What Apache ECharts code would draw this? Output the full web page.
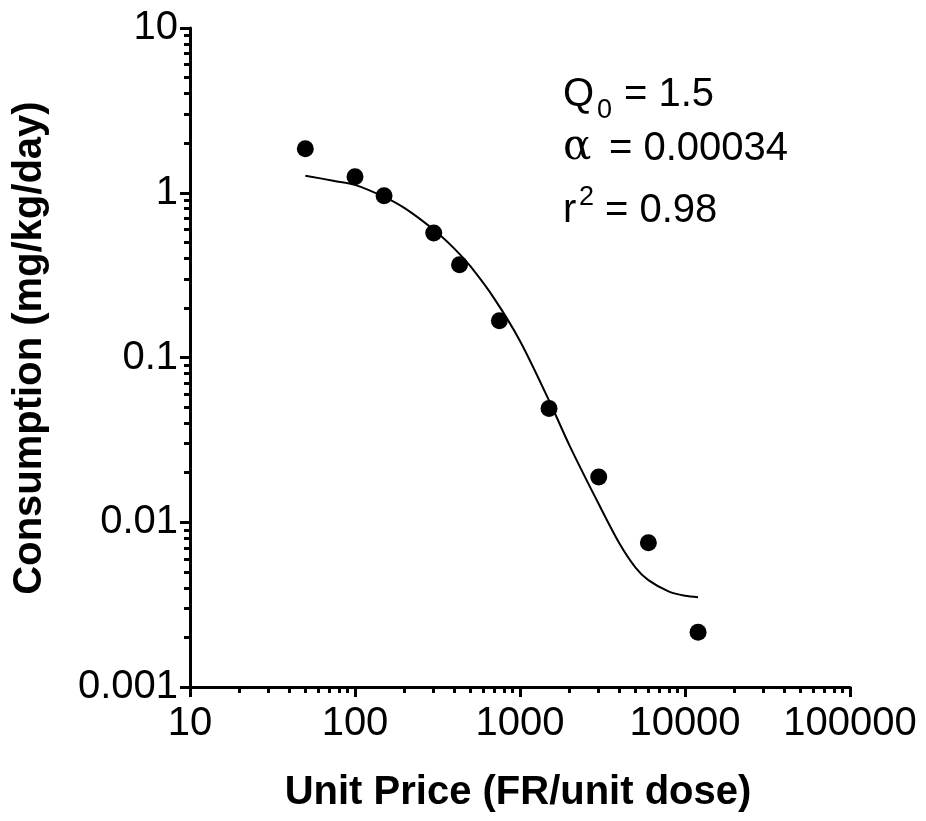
<!DOCTYPE html>
<html lang="en" style="height:100%">
<head>
    <meta charset="UTF-8">
    <title>Demand curve</title>
</head>
<body style="height: 100%; margin: 0; background: #fff">
<div id="container" style="width: 926px; height: 821px"></div>
<script type="text/javascript" src="https://cdn.jsdelivr.net/npm/echarts@6/dist/echarts.min.js"></script>
<script type="text/javascript">

    // observed points
    var price = [50, 100, 150, 300, 430, 750, 1500, 3000, 6000, 12000];
    var consumption = [1.85, 1.25, 0.96, 0.57, 0.365, 0.167, 0.049, 0.0188, 0.0075, 0.00215];

    // fitted curve
    var fitPrice = [50, 75, 100, 150, 200, 300, 400, 500, 700, 1000, 1500, 2000, 3000, 4000, 5000, 6000, 8000, 10000, 12000];
    var fitConsumption = [1.27, 1.18, 1.117, 0.944, 0.806, 0.596, 0.458, 0.358, 0.227, 0.126, 0.0548, 0.0291, 0.0129, 0.00746, 0.00533, 0.00445, 0.00379, 0.00358, 0.00351];

    // ticks
    var xMajor = [10, 100, 1000, 10000, 100000];
    var yMajor = [0.001, 0.01, 0.1, 1, 10];

    var minorOf = function (major) {
        var res = [];
        for (var i = 0; i < major.length - 1; i++) {
            for (var k = 2; k <= 9; k++) {
                res.push(+(major[i] * k).toPrecision(6));
            }
        }
        return res;
    };

    var font = 'Liberation Sans, Arial, sans-serif';

    var dom = document.getElementById("container");
    var myChart = echarts.init(dom);

    var pairs = function (xs, ys) {
        var res = [];
        for (var i = 0; i < xs.length; i++) {
            res.push([xs[i], ys[i]]);
        }
        return res;
    };

    var majorAxis = function (vals, pos, margin) {
        return {
            type: 'log',
            logBase: 10,
            position: pos,
            min: vals[0],
            max: vals[vals.length - 1],
            axisLine: {show: true, onZero: false, lineStyle: {color: '#000', width: 3}},
            axisTick: {show: true, length: 10, customValues: vals, lineStyle: {color: '#000', width: 3}},
            axisLabel: {
                customValues: vals,
                color: '#000',
                fontSize: 40,
                fontFamily: font,
                margin: margin,
                formatter: function (v) { return String(v); }
            },
            splitLine: {show: false}
        };
    };

    // second axis on the same side, only for the 2..9 minor ticks
    var minorAxis = function (vals, pos) {
        return {
            type: 'log',
            logBase: 10,
            position: pos,
            min: vals[0],
            max: vals[vals.length - 1],
            axisLine: {show: false, onZero: false},
            axisTick: {show: true, length: 6, customValues: minorOf(vals), lineStyle: {color: '#000', width: 3}},
            axisLabel: {show: false},
            splitLine: {show: false}
        };
    };

    var txt = function (text, left, top, size, family) {
        return {
            type: 'text', left: left, top: top,
            style: {text: text, fontSize: size, fontFamily: family || font, fill: '#000'}
        };
    };

    var option = {
        backgroundColor: '#fff',
        animation: false,
        grid: {left: 190, right: 76, top: 28, bottom: 134, containLabel: false},
        xAxis: [majorAxis(xMajor, 'bottom', 17), minorAxis(xMajor, 'bottom')],
        yAxis: [majorAxis(yMajor, 'left', 12), minorAxis(yMajor, 'left')],
        series: [
            {
                name: 'fit',
                type: 'line',
                xAxisIndex: 0,
                yAxisIndex: 0,
                data: pairs(fitPrice, fitConsumption),
                smooth: 0.3,
                symbol: 'none',
                lineStyle: {color: '#000', width: 2},
                z: 2
            },
            {
                name: 'observed',
                type: 'scatter',
                xAxisIndex: 0,
                yAxisIndex: 0,
                data: pairs(price, consumption),
                symbol: 'circle',
                symbolSize: 17,
                itemStyle: {color: '#000', opacity: 1},
                z: 3
            }
        ],
        graphic: [
            // axis titles
            {
                type: 'text', x: 518, y: 793,
                style: {
                    text: 'Unit Price (FR/unit dose)', fontSize: 40, fontWeight: 'bold', fontFamily: font,
                    fill: '#000', align: 'center', verticalAlign: 'middle'
                }
            },
            {
                type: 'text', x: 30, y: 348, rotation: Math.PI / 2,
                style: {
                    text: 'Consumption (mg/kg/day)', fontSize: 40, fontWeight: 'bold', fontFamily: font,
                    fill: '#000', align: 'center', verticalAlign: 'middle'
                }
            },
            // fit parameters
            txt('Q', 563, 75, 40),
            txt('0', 597, 97, 27),
            txt('= 1.5', 624, 75, 40),
            txt('\u03b1', 563, 127, 42, 'DejaVu Serif, Liberation Serif, serif'),
            txt('= 0.00034', 609, 129, 40),
            txt('r', 563, 191, 40),
            txt('2', 579, 184, 27),
            txt('= 0.98', 605, 191, 40)
        ]
    };

    if (option && typeof option === "object") {
        myChart.setOption(option, true);
    }

</script>
</body>
</html>
